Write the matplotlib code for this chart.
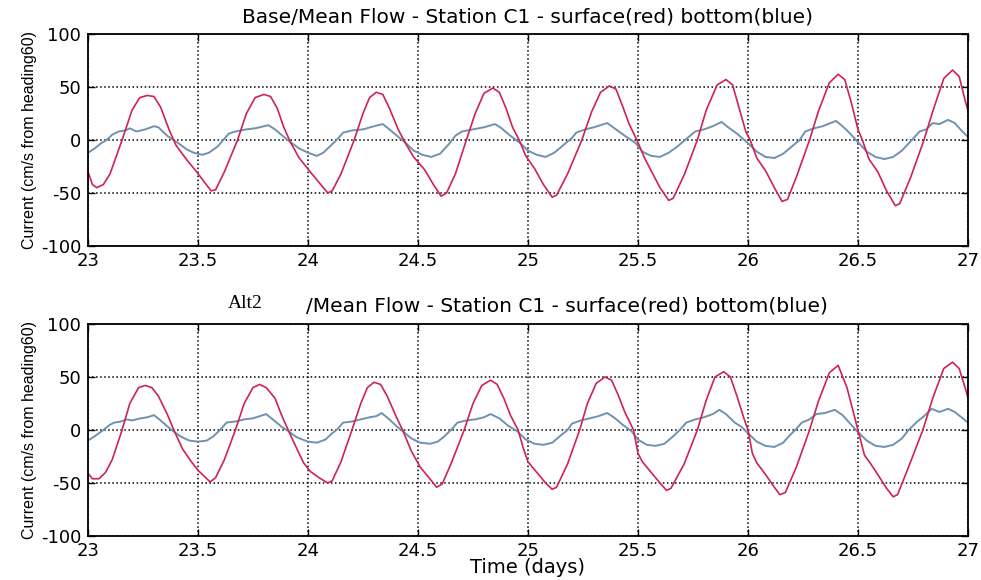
import matplotlib.pyplot as plt
import numpy as np
from matplotlib import rcParams

rcParams.update({'font.family': 'DejaVu Sans', 'font.size': 13, 'axes.unicode_minus': False})

# %% data (time in days, current in cm/s)
top_red_t = [23.00, 23.02, 23.04, 23.07, 23.10, 23.155, 23.20, 23.235, 23.27, 23.30, 23.33, 23.37, 23.40, 23.45,
             23.49, 23.53, 23.56, 23.58, 23.62, 23.68, 23.72, 23.76, 23.80, 23.83, 23.86, 23.89, 23.92, 23.96,
             24.01, 24.05, 24.09, 24.11, 24.15, 24.21, 24.25, 24.28, 24.31, 24.34, 24.37, 24.41, 24.44, 24.48,
             24.53, 24.57, 24.605, 24.63, 24.67, 24.72, 24.76, 24.80, 24.84, 24.87, 24.90, 24.93, 24.96, 24.99,
             25.03, 25.07, 25.11, 25.13, 25.18, 25.245, 25.29, 25.33, 25.37, 25.40, 25.43, 25.46, 25.495, 25.53,
             25.56, 25.60, 25.64, 25.66, 25.71, 25.77, 25.81, 25.86, 25.90, 25.93, 25.96, 25.99, 26.01, 26.04,
             26.08, 26.12, 26.155, 26.18, 26.22, 26.28, 26.32, 26.37, 26.41, 26.44, 26.47, 26.50, 26.52, 26.55,
             26.59, 26.63, 26.67, 26.69, 26.74, 26.80, 26.84, 26.89, 26.93, 26.96, 26.99, 27.00]
top_red = [-30, -42, -45, -42, -32, 0, 28, 40, 42, 41, 31, 9, -5, -19,
           -29, -40, -48, -47, -30, 0, 25, 40, 43, 41, 30, 12, -2, -17,
           -30, -40, -50, -48, -32, 0, 25, 40, 45, 43, 30, 10, -2, -16,
           -28, -42, -53, -50, -32, 0, 25, 44, 49, 45, 30, 12, 0, -15,
           -27, -42, -54, -52, -32, 0, 27, 45, 51, 48, 32, 15, 0, -17,
           -29, -45, -57, -55, -33, 0, 28, 52, 57, 52, 30, 8, 0, -17,
           -29, -45, -58, -56, -35, 0, 27, 54, 62, 57, 35, 10, 0, -18,
           -30, -48, -62, -60, -35, 0, 27, 58, 66, 60, 35, 28]

top_blue_t = [23.00, 23.03, 23.06, 23.085, 23.11, 23.14, 23.17, 23.19, 23.22, 23.26, 23.30, 23.32, 23.36, 23.41,
              23.45, 23.48, 23.52, 23.55, 23.59, 23.615, 23.64, 23.67, 23.72, 23.76, 23.80, 23.82, 23.85, 23.89,
              23.92, 23.96, 24.00, 24.04, 24.07, 24.10, 24.13, 24.16, 24.20, 24.25, 24.30, 24.34, 24.37, 24.41,
              24.44, 24.48, 24.52, 24.56, 24.60, 24.64, 24.67, 24.70, 24.75, 24.80, 24.85, 24.88, 24.92, 24.965,
              25.00, 25.04, 25.08, 25.12, 25.16, 25.20, 25.22, 25.26, 25.30, 25.36, 25.40, 25.44, 25.49, 25.52,
              25.56, 25.60, 25.64, 25.68, 25.72, 25.76, 25.80, 25.84, 25.88, 25.91, 25.95, 26.00, 26.04, 26.08,
              26.12, 26.16, 26.20, 26.235, 26.26, 26.30, 26.34, 26.40, 26.43, 26.46, 26.50, 26.54, 26.58, 26.62,
              26.66, 26.70, 26.745, 26.78, 26.81, 26.84, 26.87, 26.91, 26.94, 26.97, 27.00]
top_blue = [-12, -8, -3, 0, 5, 8, 9, 11, 8, 10, 13, 12, 4, -3,
            -9, -12, -14, -12, -6, 0, 6, 8, 10, 11, 13, 14, 10, 3,
            -2, -8, -12, -15, -12, -6, 0, 7, 9, 10, 13, 15, 10, 3,
            -2, -10, -14, -16, -13, -4, 4, 8, 10, 12, 15, 11, 4, -3,
            -10, -14, -16, -12, -5, 2, 7, 10, 12, 16, 10, 4, -3, -11,
            -15, -16, -12, -6, 1, 8, 10, 13, 17, 12, 6, -3, -11, -16,
            -17, -13, -6, 0, 8, 11, 13, 18, 13, 7, -2, -11, -16, -18,
            -16, -10, 0, 8, 10, 16, 15, 19, 16, 9, 3]

bot_red_t = [23.00, 23.02, 23.05, 23.08, 23.11, 23.155, 23.19, 23.23, 23.26, 23.29, 23.32, 23.36, 23.39, 23.43,
             23.47, 23.50, 23.53, 23.555, 23.58, 23.62, 23.67, 23.71, 23.75, 23.78, 23.81, 23.85, 23.88, 23.91,
             23.95, 23.98, 24.01, 24.05, 24.09, 24.11, 24.15, 24.20, 24.24, 24.27, 24.30, 24.33, 24.36, 24.40,
             24.43, 24.47, 24.51, 24.55, 24.585, 24.61, 24.65, 24.71, 24.75, 24.79, 24.83, 24.86, 24.89, 24.92,
             24.955, 24.98, 25.00, 25.04, 25.08, 25.11, 25.13, 25.18, 25.235, 25.27, 25.31, 25.35, 25.38, 25.41,
             25.44, 25.48, 25.50, 25.52, 25.56, 25.60, 25.63, 25.65, 25.71, 25.77, 25.81, 25.85, 25.89, 25.92,
             25.95, 25.98, 26.00, 26.02, 26.04, 26.08, 26.12, 26.145, 26.17, 26.22, 26.28, 26.32, 26.37, 26.41,
             26.45, 26.475, 26.50, 26.53, 26.555, 26.59, 26.63, 26.66, 26.68, 26.73, 26.795, 26.84, 26.89, 26.93,
             26.96, 26.99, 27.00]
bot_red = [-41, -46, -46, -40, -28, 0, 25, 40, 42, 40, 32, 15, 0, -18,
           -30, -38, -44, -49, -45, -28, 0, 25, 40, 43, 40, 30, 14, 0,
           -18, -31, -39, -45, -50, -48, -30, 0, 25, 40, 45, 43, 32, 13,
           0, -20, -35, -45, -54, -51, -32, 0, 25, 42, 47, 43, 30, 14,
           0, -18, -30, -40, -50, -56, -54, -32, 0, 25, 44, 50, 47, 33,
           17, 0, -22, -30, -40, -50, -57, -55, -32, 0, 28, 50, 55, 50,
           32, 12, 0, -22, -31, -42, -54, -61, -59, -35, 0, 27, 54, 61,
           40, 20, 0, -24, -31, -42, -55, -63, -61, -35, 0, 30, 58, 64,
           58, 38, 30]

bot_blue_t = [23.00, 23.03, 23.07, 23.10, 23.12, 23.15, 23.175, 23.20, 23.24, 23.27, 23.30, 23.33, 23.38, 23.42,
              23.46, 23.50, 23.54, 23.57, 23.60, 23.63, 23.67, 23.71, 23.75, 23.78, 23.81, 23.84, 23.88, 23.91,
              23.95, 24.00, 24.04, 24.08, 24.11, 24.13, 24.16, 24.20, 24.24, 24.28, 24.31, 24.335, 24.37, 24.40,
              24.43, 24.47, 24.51, 24.555, 24.59, 24.62, 24.65, 24.68, 24.72, 24.76, 24.80, 24.83, 24.87, 24.91,
              24.95, 24.99, 25.03, 25.07, 25.11, 25.15, 25.18, 25.20, 25.24, 25.28, 25.32, 25.36, 25.39, 25.43,
              25.47, 25.50, 25.54, 25.58, 25.62, 25.66, 25.69, 25.72, 25.76, 25.80, 25.84, 25.87, 25.90, 25.94,
              25.97, 26.00, 26.04, 26.08, 26.12, 26.16, 26.19, 26.215, 26.245, 26.28, 26.31, 26.35, 26.395, 26.43,
              26.46, 26.495, 26.54, 26.58, 26.62, 26.66, 26.70, 26.73, 26.77, 26.80, 26.835, 26.87, 26.91, 26.94,
              26.97, 27.00]
bot_blue = [-10, -6, 0, 5, 7, 8, 10, 9, 11, 12, 14, 9, 0, -6,
            -10, -11, -10, -6, 0, 7, 8, 10, 11, 13, 15, 10, 3, -1,
            -7, -11, -12, -9, -3, 0, 7, 8, 10, 12, 13, 16, 10, 4,
            -1, -8, -12, -13, -11, -6, 0, 7, 9, 10, 12, 15, 11, 4,
            -1, -9, -13, -14, -12, -5, 0, 6, 9, 11, 13, 16, 12, 5,
            -1, -9, -14, -15, -13, -6, 0, 7, 10, 12, 15, 19, 15, 7,
            3, -3, -11, -15, -16, -12, -5, 0, 7, 10, 15, 16, 19, 14,
            7, -1, -10, -15, -16, -14, -8, 0, 8, 13, 20, 17, 20, 17,
            12, 7]

xticks = [23, 23.5, 24, 24.5, 25, 25.5, 26, 26.5, 27]
xticklabels = ['23', '23.5', '24', '24.5', '25', '25.5', '26', '26.5', '27']
yticks = [-100, -50, 0, 50, 100]
title_rest = '/Mean Flow - Station C1 - surface(red) bottom(blue)'

red = '#cf2257'
blue = '#7092ae'

# %% figure
fig = plt.figure(figsize=(9.81, 5.8), dpi=100)
ax1 = fig.add_axes([0.0897, 0.5759, 0.897, 0.3655])
ax2 = fig.add_axes([0.0897, 0.0759, 0.897, 0.3655])

for ax, rt, rv, bt, bv in [(ax1, top_red_t, top_red, top_blue_t, top_blue),
                           (ax2, bot_red_t, bot_red, bot_blue_t, bot_blue)]:
    ax.plot(bt, bv, color=blue, linewidth=1.4)
    ax.plot(rt, rv, color=red, linewidth=1.2)

    ax.set_xlim(23, 27)
    ax.set_ylim(-100, 100)
    ax.set_xticks(xticks)
    ax.set_xticklabels(xticklabels)
    ax.set_yticks(yticks)
    ax.grid(which='major', color='black', linestyle=':', linewidth=1.1)
    ax.tick_params(direction='in', length=5, width=1, top=True, right=True, labelsize=13)
    ax.tick_params(axis='x', pad=4)
    ax.tick_params(axis='y', pad=5)
    for s in ax.spines.values():
        s.set_linewidth(1.3)
    ax.set_ylabel('Current (cm/s from heading60)', fontsize=11.5, family='Liberation Sans', labelpad=3)

ax1.set_title('Base' + title_rest, fontsize=14.5, pad=8)

# bottom title: "Base" was pasted over with "Alt2"
fig.text(828 / 981, 1 - 306 / 580, title_rest, fontsize=14.5, ha='right', va='center')
fig.text(228 / 981, 1 - 304 / 580, 'Alt2', fontsize=14, ha='left', va='center', family='Liberation Serif')

ax2.set_xlabel('Time (days)', fontsize=14, labelpad=-1)

plt.savefig('out.png', dpi=100)
